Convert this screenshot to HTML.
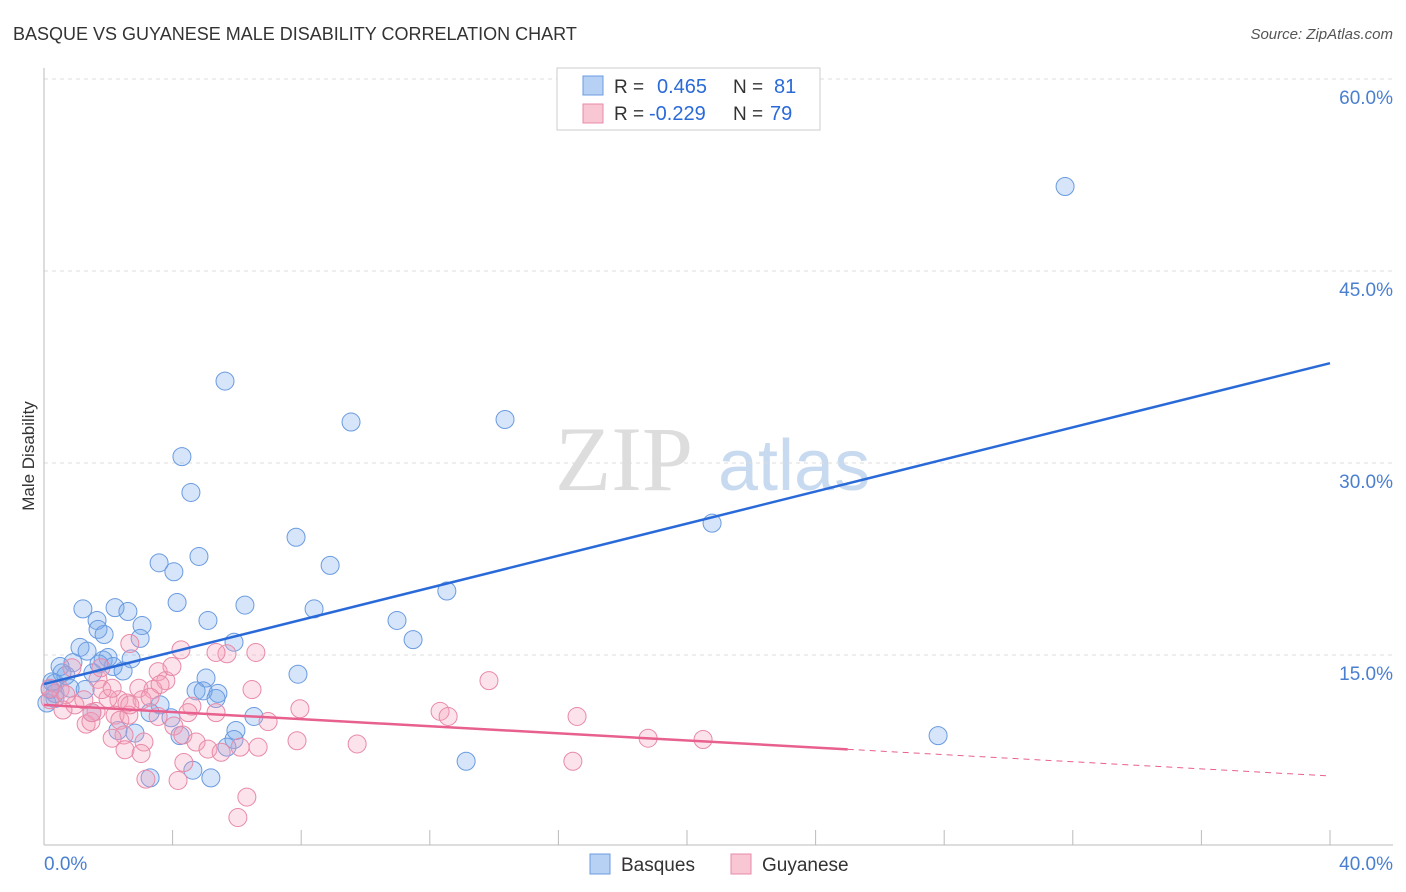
<!DOCTYPE html>
<html><head><meta charset="utf-8">
<style>
body{margin:0;background:#fff;font-family:"Liberation Sans",sans-serif;}
svg{display:block}
</style></head>
<body>
<svg id="chart" width="1406" height="892" xmlns="http://www.w3.org/2000/svg">
<text x="13" y="40" font-size="18" fill="#333" font-family="Liberation Sans, sans-serif">BASQUE VS GUYANESE MALE DISABILITY CORRELATION CHART</text>
<text x="1393" y="39" font-size="15" fill="#555" font-style="italic" text-anchor="end" font-family="Liberation Sans, sans-serif">Source: ZipAtlas.com</text>
<g>
<text x="555" y="490" font-size="92" fill="#ddd" font-family="Liberation Serif, serif">ZIP</text>
<text x="718" y="490" font-size="72" fill="#c8daf0" font-family="Liberation Sans, sans-serif">atlas</text>
</g>
<g id="grid"></g>
<g id="axes"></g>
<g id="pts"></g>
<g id="lines"></g>
<text transform="translate(34,456) rotate(-90)" font-size="17" fill="#333" text-anchor="middle" font-family="Liberation Sans, sans-serif">Male Disability</text>
<g>
<rect x="557" y="68" width="263" height="62" fill="#fff" stroke="#ccc"/>
<rect x="583" y="76" width="20" height="19" fill="#b6d1f4" stroke="#6a9be0"/>
<rect x="583" y="104" width="20" height="19" fill="#f9c6d4" stroke="#e88aa8"/>
<text x="614" y="93" font-size="19" fill="#333">R = </text><text x="657" y="93" font-size="20" fill="#2a6ad8">0.465</text>
<text x="733" y="93" font-size="19" fill="#333">N = </text><text x="774" y="93" font-size="20" fill="#2a6ad8">81</text>
<text x="614" y="120" font-size="19" fill="#333">R = </text><text x="649" y="120" font-size="20" fill="#2a6ad8">-0.229</text>
<text x="733" y="120" font-size="19" fill="#333">N = </text><text x="770" y="120" font-size="20" fill="#2a6ad8">79</text>
</g>
<g>
<rect x="590" y="854" width="20" height="20" fill="#b6d1f4" stroke="#6a9be0"/>
<text x="621" y="871" font-size="19" fill="#333">Basques</text>
<rect x="731" y="854" width="20" height="20" fill="#f9c6d4" stroke="#e88aa8"/>
<text x="762" y="871" font-size="19" fill="#333">Guyanese</text>
</g>
</svg>
<script>
const yTicks=[15,30,45,60];
const xTickLabels=["0.0%","40.0%"];
const basqueX=[31.76,5.63,9.55,14.34,4.29,4.57,20.78,7.84,4.82,3.58,4.04,8.90,12.53,4.14,6.25,8.40,1.21,2.21,2.61,10.98,5.10,1.65,3.05,2.99,1.68,1.87,5.91,11.48,1.12,1.34,1.84,1.99,2.71,2.15,2.46,1.71,0.90,0.50,7.90,5.04,0.68,1.52,0.34,0.81,1.28,4.73,5.41,4.95,5.35,0.34,0.19,0.09,3.61,3.30,1.49,6.53,3.95,5.97,4.23,27.81,5.91,5.69,2.30,2.83,13.13,4.63,5.19,3.30,0.34,0.56,0.25];
const basqueY=[51.6,36.4,33.2,33.4,30.5,27.7,25.3,24.2,22.7,22.2,21.5,22.0,20.0,19.1,18.9,18.6,18.6,18.7,18.4,17.7,17.7,17.7,17.3,16.3,17.0,16.6,16.0,16.2,15.6,15.3,14.6,14.8,14.7,14.1,13.75,14.3,14.4,14.1,13.5,13.2,13.4,13.6,12.8,12.4,12.3,12.2,12.0,12.2,11.6,11.6,12.3,11.25,11.1,10.5,10.5,10.2,10.1,9.1,8.7,8.7,8.4,7.8,9.1,8.9,6.7,6.0,5.4,5.4,12.0,13.6,12.9];
const guyX=[4.26,2.67,0.87,1.68,1.77,3.55,3.79,2.95,3.39,3.61,6.47,5.69,5.35,6.59,3.98,13.84,2.33,1.99,2.58,3.05,3.30,2.21,2.36,2.64,1.62,1.31,1.46,7.96,4.60,5.35,4.48,12.32,12.57,16.58,6.97,4.04,3.55,2.49,2.12,3.11,4.32,4.73,6.10,6.66,5.10,5.51,7.87,9.74,18.79,20.50,2.52,3.02,4.35,4.17,3.17,16.45,6.31,6.03,1.49,0.50,0.19,0.96,1.24,0.68,0.19,0.59,2.67,1.80,2.12];
const guyY=[15.4,15.9,14.0,13.1,14.0,13.7,13.0,12.4,12.3,12.7,12.3,15.1,15.2,15.2,14.1,13.0,11.5,11.6,11.25,11.5,11.7,10.3,9.9,10.3,10.6,9.6,9.8,10.8,11.0,10.5,10.5,10.6,10.2,10.2,9.8,9.45,10.2,8.75,8.5,8.2,8.75,8.2,7.8,7.8,7.65,7.4,8.3,8.05,8.5,8.4,7.6,7.3,6.6,5.2,5.3,6.7,3.9,2.3,10.5,12.3,11.5,11.1,11.5,11.9,12.4,10.7,11.1,12.3,12.4];
const blueLine=[12.73,37.8];
const pinkLine=[11.1,5.55];
const pinkSolidEnd=25;

const NS="http://www.w3.org/2000/svg";
const X=v=>44+v*(1286/40);
const Y=v=>847-v*12.8;
function mk(tag,attrs,parent){const e=document.createElementNS(NS,tag);for(const k in attrs)e.setAttribute(k,attrs[k]);parent.appendChild(e);return e;}
const grid=document.getElementById('grid'),axes=document.getElementById('axes'),pts=document.getElementById('pts'),lines=document.getElementById('lines');
yTicks.forEach(t=>{
 const l=mk('line',{x1:44,x2:1393,y1:Y(t),y2:Y(t),stroke:'#ddd','stroke-dasharray':'4,4'},grid);
 
 
 const tx=mk('text',{x:1393,y:Y(t)+25,'font-size':19,fill:'#4a7fd0','text-anchor':'end','font-family':'Liberation Sans, sans-serif'},grid);
 tx.textContent=t.toFixed(1)+'%';
 
 
});
const ax=mk('line',{x1:44,x2:1393,y1:845,y2:845,stroke:'#bbb'},axes);


const ay=mk('line',{x1:44,x2:44,y1:68,y2:845,stroke:'#bbb'},axes);


for(let v=4;v<=40;v+=4){const t=mk('line',{x1:X(v),x2:X(v),y1:830,y2:845,stroke:'#bbb'},axes);
 
 }
[[0,'start',44],[40,'end',1393]].forEach((d,i)=>{const t=mk('text',{x:d[2],y:870,'font-size':19,fill:'#4a7fd0','text-anchor':d[1]},axes);t.textContent=xTickLabels[i];
 
 });
basqueX.forEach((v,i)=>{const c=mk('circle',{cx:X(v),cy:Y(basqueY[i]),r:9,fill:'rgba(120,170,235,0.3)',stroke:'#6a9be0','stroke-width':1},pts);
 
 });
guyX.forEach((v,i)=>{const c=mk('circle',{cx:X(v),cy:Y(guyY[i]),r:9,fill:'rgba(245,160,185,0.3)',stroke:'#e88aa8','stroke-width':1},pts);
 
 });
const bl=mk('line',{x1:X(0),y1:Y(blueLine[0]),x2:X(40),y2:Y(blueLine[1]),stroke:'#2a6ad8','stroke-width':2.5},lines);


const pm=v=>pinkLine[0]+(pinkLine[1]-pinkLine[0])*v/40;
const pl=mk('line',{x1:X(0),y1:Y(pinkLine[0]),x2:X(pinkSolidEnd),y2:Y(pm(pinkSolidEnd)),stroke:'#e8608e','stroke-width':2.5},lines);


const pd=mk('line',{x1:X(pinkSolidEnd),y1:Y(pm(pinkSolidEnd)),x2:X(40),y2:Y(pinkLine[1]),stroke:'#e8608e','stroke-width':1,'stroke-dasharray':'6,5'},lines);


</script>
</body></html>
